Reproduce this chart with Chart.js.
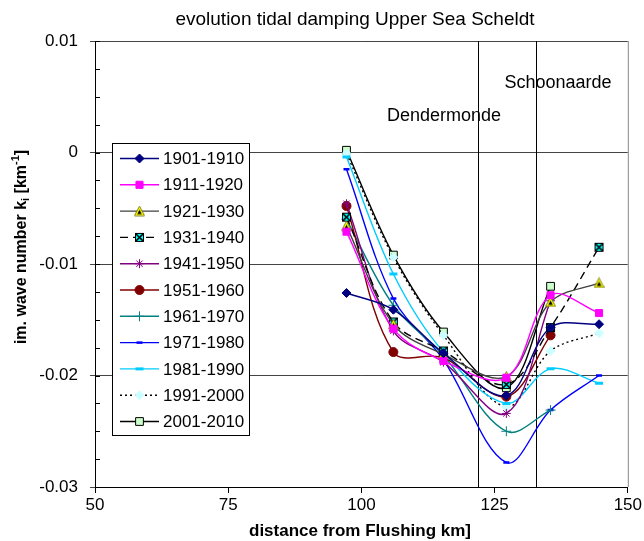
<!DOCTYPE html>
<html>
<head>
<meta charset="utf-8">
<script src="https://cdn.jsdelivr.net/npm/chart.js@4.4.1/dist/chart.umd.min.js"></script>
<style>
  html, body { margin: 0; padding: 0; background: #fff; }
</style>
</head>
<body>
<canvas id="tidalChart" width="644" height="541"></canvas>
<script>
// distance from Flushing (km) of the measuring stations
const distanceKm = [97.2, 106.0, 115.4, 127.2, 135.5, 144.6];

// imaginary wave number k_i [1/km] per decade
const k1901 = [-0.0126, -0.0141, -0.0180, -0.0218, -0.0157, -0.0154];
const k1911 = [-0.0071, -0.0158, -0.0187, -0.0202, -0.0128, -0.0144];
const k1921 = [-0.0066, -0.0154, -0.0181, -0.0201, -0.0134, -0.0117];
const k1931 = [-0.0058, -0.0152, -0.0178, -0.0208, -0.0157, -0.0085];
const k1941 = [-0.0046, -0.0160, -0.0188, -0.0234, -0.0133];
const k1951 = [-0.0048, -0.0179, -0.0184, -0.0219, -0.0164];
const k1961 = [-0.0060, -0.0137, -0.0182, -0.0250, -0.0231];
const k1971 = [-0.0015, -0.0131, -0.0186, -0.0278, -0.0231, -0.0200];
const k1981 = [-0.0004, -0.0109, -0.0179, -0.0225, -0.0194, -0.0207];
const k1991 = [-0.0001, -0.0094, -0.0164, -0.0228, -0.0178, -0.0162];
const k2001 = [0.0002, -0.0092, -0.0161, -0.0211, -0.0120];

const periods = ['1901-1910', '1911-1920', '1921-1930', '1931-1940', '1941-1950', '1951-1960',
                 '1961-1970', '1971-1980', '1981-1990', '1991-2000', '2001-2010'];

const xTicks = [50, 75, 100, 125, 150];
const yTicks = [0.01, 0, -0.01, -0.02, -0.03];

const stations = ['Dendermonde', 'Schoonaarde'];
const stationKm = [121.8, 132.7];
const stationLabelKm = [115.5, 136.9];
const stationLabelK = [0.0033, 0.00625];

const FONT = '"Liberation Sans", Arial, Helvetica, sans-serif';

// small canvases for the marker styles Chart.js does not have
function triangleMarker() {
    const c = document.createElement('canvas');
    c.width = 11; c.height = 11;
    const g = c.getContext('2d');
    g.beginPath();
    g.moveTo(5.5, 0.5); g.lineTo(10.5, 10); g.lineTo(0.5, 10); g.closePath();
    g.fillStyle = '#ffff00'; g.fill();
    g.strokeStyle = '#666600'; g.lineWidth = 0.8; g.stroke();
    g.beginPath();
    g.moveTo(5.5, 4); g.lineTo(7.8, 8.5); g.lineTo(3.2, 8.5); g.closePath();
    g.fillStyle = '#000'; g.fill();
    return c;
}
function xBoxMarker() {
    const c = document.createElement('canvas');
    c.width = 11; c.height = 11;
    const g = c.getContext('2d');
    g.fillStyle = '#00ffff';
    g.fillRect(1, 1, 9, 9);
    g.strokeStyle = '#000'; g.lineWidth = 1;
    g.strokeRect(1.5, 1.5, 8, 8);
    g.lineWidth = 1.6;
    g.beginPath();
    g.moveTo(2, 2); g.lineTo(9, 9);
    g.moveTo(9, 2); g.lineTo(2, 9);
    g.stroke();
    return c;
}

const series = [k1901, k1911, k1921, k1931, k1941, k1951, k1961, k1971, k1981, k1991, k2001];
const styles = [
    { line: '#000080', fill: '#000080', stroke: '#000080', point: 'rectRot', r: 4.5 },
    { line: '#ff00ff', fill: '#ff00ff', stroke: '#ff00ff', point: 'rect', r: 5 },
    { line: '#404040', point: triangleMarker() },
    { line: '#000000', point: xBoxMarker(), dash: [8, 5] },
    { line: '#800080', fill: '#800080', stroke: '#800080', point: 'star', r: 4.5 },
    { line: '#800000', fill: '#800000', stroke: '#800000', point: 'circle', r: 4.5 },
    { line: '#008080', fill: '#008080', stroke: '#008080', point: 'cross', r: 5 },
    { line: '#0000ff', fill: '#0000ff', stroke: '#0000ff', point: 'line', r: 3, bw: 2.5 },
    { line: '#00ccff', fill: '#00ccff', stroke: '#00ccff', point: 'line', r: 4, bw: 3 },
    { line: '#000000', fill: '#ccffff', stroke: '#ccffff', point: 'rectRot', r: 4.5, dash: [2, 3] },
    { line: '#000000', fill: '#ccffcc', stroke: '#000000', point: 'rect', r: 5.5 }
];

const datasets = series.map((vals, i) => {
    const s = styles[i];
    return {
        label: periods[i],
        data: vals.map((v, j) => ({ x: distanceKm[j], y: v })),
        borderColor: s.line,
        borderWidth: 1.4,
        borderDash: s.dash || [],
        tension: 0.35,
        pointStyle: s.point,
        pointRadius: s.r || 5,
        pointBackgroundColor: s.fill || s.line,
        pointBorderColor: s.stroke || s.line,
        pointBorderWidth: s.bw || 1,
        fill: false
    };
});

const decor = {
    id: 'decor',
    beforeDatasetsDraw(chart) {
        const { ctx, chartArea: a, scales: { x, y } } = chart;
        ctx.save();
        ctx.lineWidth = 1;
        ctx.strokeStyle = '#000';
        // station lines
        stationKm.forEach(km => {
            const px = Math.round(x.getPixelForValue(km)) + 0.5;
            ctx.beginPath(); ctx.moveTo(px, a.top); ctx.lineTo(px, a.bottom); ctx.stroke();
        });
        // minor ticks inside the y axis
        for (let v = -0.03; v <= 0.01 + 1e-9; v += 0.0025) {
            const py = Math.round(y.getPixelForValue(v)) + 0.5;
            ctx.beginPath(); ctx.moveTo(a.left, py); ctx.lineTo(a.left + 5, py); ctx.stroke();
        }
        // right frame
        ctx.strokeStyle = '#888';
        ctx.beginPath(); ctx.moveTo(a.right + 0.5, a.top); ctx.lineTo(a.right + 0.5, a.bottom); ctx.stroke();
        // station names
        ctx.fillStyle = '#000';
        ctx.font = '18px ' + FONT;
        ctx.textAlign = 'center';
        ctx.textBaseline = 'middle';
        stations.forEach((name, i) => {
            ctx.fillText(name, x.getPixelForValue(stationLabelKm[i]), y.getPixelForValue(stationLabelK[i]));
        });
        ctx.restore();
    },
    afterDraw(chart) {
        const { ctx } = chart;
        ctx.save();
        ctx.fillStyle = '#000';

        // title
        ctx.font = '19px ' + FONT;
        ctx.textAlign = 'center';
        ctx.textBaseline = 'middle';
        ctx.fillText('evolution tidal damping Upper Sea Scheldt', 355, 20);

        // x axis title
        ctx.font = 'bold 17px ' + FONT;
        ctx.fillText('distance from Flushing km]', 360, 531);

        // y axis title with sub/superscript
        const parts = [
            { t: 'im. wave number k', f: 'bold 16px ', dy: 0 },
            { t: 'i', f: 'bold 11px ', dy: 4 },
            { t: ' [km', f: 'bold 16px ', dy: 0 },
            { t: '-1', f: 'bold 11px ', dy: -6 },
            { t: ']', f: 'bold 16px ', dy: 0 }
        ];
        let total = 0;
        parts.forEach(p => { ctx.font = p.f + FONT; p.w = ctx.measureText(p.t).width; total += p.w; });
        ctx.translate(22, 247);
        ctx.rotate(-Math.PI / 2);
        ctx.textAlign = 'left';
        let cx = -total / 2;
        parts.forEach(p => {
            ctx.font = p.f + FONT;
            ctx.fillText(p.t, cx, p.dy);
            cx += p.w;
        });
        ctx.setTransform(1, 0, 0, 1, 0, 0);

        // legend box
        const bx = 112.5, by = 143.5, bw = 137, bh = 292;
        ctx.fillStyle = '#fff';
        ctx.fillRect(bx, by, bw, bh);
        ctx.strokeStyle = '#000';
        ctx.lineWidth = 1;
        ctx.strokeRect(bx, by, bw, bh);
        chart.data.datasets.forEach((ds, i) => {
            const ry = 158.5 + i * 26.3;
            ctx.save();
            ctx.strokeStyle = ds.borderColor;
            ctx.lineWidth = ds.borderWidth;
            ctx.setLineDash(ds.borderDash);
            ctx.beginPath(); ctx.moveTo(120, ry); ctx.lineTo(159, ry); ctx.stroke();
            ctx.setLineDash([]);
            ctx.fillStyle = ds.pointBackgroundColor;
            ctx.strokeStyle = ds.pointBorderColor;
            ctx.lineWidth = ds.pointBorderWidth;
            Chart.helpers.drawPoint(ctx, { pointStyle: ds.pointStyle, radius: ds.pointRadius, borderWidth: ds.pointBorderWidth, rotation: 0 }, 139.5, ry);
            ctx.restore();
            ctx.fillStyle = '#000';
            ctx.font = '17px ' + FONT;
            ctx.textAlign = 'left';
            ctx.textBaseline = 'middle';
            ctx.fillText(ds.label, 163, ry + 1);
        });
        ctx.restore();
    }
};

new Chart(document.getElementById('tidalChart').getContext('2d'), {
    type: 'line',
    data: { datasets: datasets },
    options: {
        responsive: false,
        devicePixelRatio: 1,
        animation: false,
        layout: { padding: { top: 41, right: 16, left: 0, bottom: 0 } },
        plugins: {
            legend: { display: false },
            title: { display: false },
            tooltip: { enabled: false }
        },
        scales: {
            x: {
                type: 'linear',
                min: 50,
                max: 150,
                afterBuildTicks: s => { s.ticks = xTicks.map(v => ({ value: v })); },
                afterFit: s => { s.height = 54; },
                grid: { drawOnChartArea: false, tickLength: 6, color: '#000' },
                border: { color: '#000' },
                ticks: { color: '#000', font: { family: FONT, size: 17 }, padding: 2, autoSkip: false, maxRotation: 0 }
            },
            y: {
                type: 'linear',
                min: -0.03,
                max: 0.01,
                afterBuildTicks: s => { s.ticks = yTicks.map(v => ({ value: v })); },
                afterFit: s => { s.width = 95; },
                grid: { color: '#444', tickLength: 5 },
                border: { color: '#000' },
                ticks: {
                    color: '#000',
                    font: { family: FONT, size: 17 },
                    padding: 12,
                    callback: v => String(+v.toFixed(2))
                }
            }
        }
    },
    plugins: [decor]
});
</script>
</body>
</html>
